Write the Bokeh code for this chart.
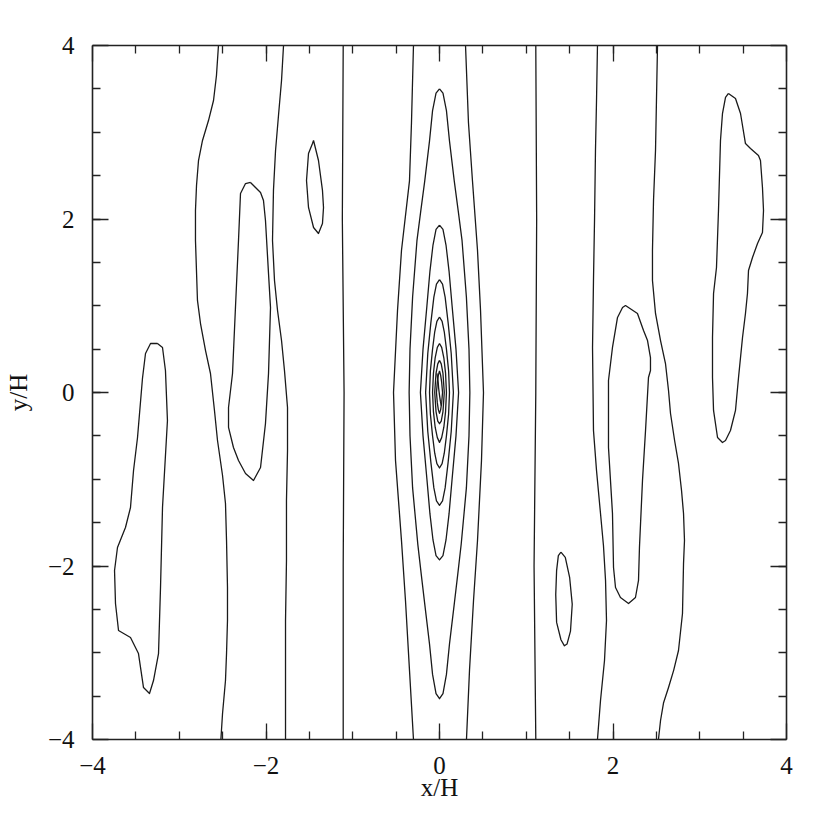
from bokeh.plotting import figure
from bokeh.models import LinearAxis, FixedTicker, Range1d, CustomJSTickFormatter
from bokeh.embed import file_html
from bokeh.resources import INLINE

# ---- tick values ----
major_ticks = [-4, -2, 0, 2, 4]
minor_ticks = [-3.5, -3, -2.5, -2, -1.5, -1, -0.5, 0, 0.5, 1, 1.5, 2, 2.5, 3, 3.5]
tick_labels = {-4: "\u22124", -2: "\u22122", 0: "0", 2: "2", 4: "4"}

# ---- open contour lines crossing the box (x, y) ----
L1_x = [-2.548, -2.571, -2.605, -2.663, -2.732, -2.778, -2.801, -2.813, -2.813, -2.790, -2.755, -2.697, -2.640,
        -2.594, -2.559, -2.501, -2.467, -2.455, -2.444, -2.444, -2.455, -2.467, -2.501, -2.520]
L1_y = [4.0, 3.654, 3.366, 3.135, 2.905, 2.674, 2.386, 2.098, 1.752, 1.061, 0.795, 0.484, 0.219,
        -0.207, -0.553, -0.957, -1.280, -1.706, -2.248, -2.628, -3.009, -3.320, -3.700, -4.0]

L2_x = [-1.798, -1.821, -1.856, -1.890, -1.914, -1.925, -1.902, -1.867, -1.821, -1.787, -1.752,
        -1.752, -1.764, -1.764, -1.775, -1.775, -1.775]
L2_y = [4.0, 3.597, 3.193, 2.790, 2.329, 1.752, 1.291, 0.945, 0.599, 0.254, -0.173,
        -0.669, -1.245, -1.937, -2.628, -3.320, -4.0]

L3_x = [-1.11, -1.12, -1.10, -1.11, -1.11]
L3_y = [4.0, 2.0, 0.0, -2.0, -4.0]

L4_x = [1.11, 1.12, 1.11, 1.09, 1.11]
L4_y = [4.0, 2.0, 0.0, -2.0, -4.0]

L5_x = [1.821, 1.810, 1.798, 1.787, 1.775, 1.764, 1.775, 1.810, 1.856, 1.890, 1.914, 1.925, 1.902, 1.856, 1.821]
L5_y = [4.0, 3.366, 2.790, 1.983, 1.291, 0.519, -0.438, -0.899, -1.395, -1.764, -2.167, -2.628, -3.089, -3.550, -4.0]

L6_x = [2.513, 2.501, 2.490, 2.467, 2.455, 2.455, 2.490, 2.548, 2.605, 2.640, 2.663, 2.710, 2.755,
        2.790, 2.813, 2.824, 2.813, 2.801, 2.755, 2.700, 2.640, 2.582, 2.548, 2.524]
L6_y = [4.0, 3.366, 2.790, 2.213, 1.637, 1.291, 0.911, 0.599, 0.334, 0.023, -0.242, -0.553, -0.818,
        -1.130, -1.395, -1.706, -1.971, -2.548, -2.974, -3.200, -3.400, -3.580, -3.781, -4.0]

C0L_x = [-0.300, -0.323, -0.346, -0.438, -0.484, -0.530, -0.507, -0.438, -0.392, -0.346, -0.300]
C0L_y = [4.0, 3.11, 2.44, 1.64, 0.945, 0.0, -0.784, -1.71, -2.40, -3.20, -4.0]
C0R_x = [0.300, 0.334, 0.380, 0.438, 0.473, 0.507, 0.484, 0.438, 0.392, 0.346, 0.311]
C0R_y = [4.0, 3.11, 2.44, 1.64, 0.945, 0.0, -0.784, -1.71, -2.40, -3.20, -4.0]

# ---- closed loops (x, y) ----
A_x = [-3.251, -3.193, -3.159, -3.136, -3.193, -3.216, -3.239, -3.297, -3.343, -3.412, -3.470, -3.562,
       -3.700, -3.735, -3.746, -3.712, -3.620, -3.562, -3.527, -3.481, -3.424, -3.389, -3.331]
A_y = [0.565, 0.519, 0.254, -0.323, -1.326, -2.248, -3.009, -3.320, -3.470, -3.401, -3.009, -2.824,
       -2.744, -2.432, -2.052, -1.787, -1.556, -1.326, -0.899, -0.519, 0.161, 0.450, 0.565]

B_x = [-2.179, -2.063, -2.029, -2.006, -1.971, -1.948, -1.971, -2.006, -2.063, -2.144,
       -2.236, -2.317, -2.375, -2.432, -2.432, -2.386, -2.352, -2.317, -2.294, -2.236]
B_y = [2.421, 2.305, 2.213, 1.983, 1.372, 0.980, 0.219, -0.357, -0.865, -1.014,
       -0.934, -0.784, -0.634, -0.403, -0.173, 0.219, 0.980, 1.752, 2.294, 2.409]

C_x = [-1.452, -1.395, -1.349, -1.337, -1.349, -1.395, -1.452, -1.510, -1.533, -1.510, -1.464]
C_y = [2.905, 2.674, 2.329, 2.133, 1.948, 1.833, 1.902, 2.133, 2.444, 2.755, 2.870]

D_x = [1.40, 1.45, 1.50, 1.53, 1.51, 1.47, 1.44, 1.40, 1.35, 1.34, 1.35, 1.37]
D_y = [-1.84, -1.90, -2.13, -2.44, -2.75, -2.90, -2.92, -2.85, -2.65, -2.33, -2.05, -1.88]

E_x = [2.144, 2.282, 2.352, 2.398, 2.432, 2.432, 2.409, 2.375, 2.340, 2.305, 2.294, 2.259,
       2.179, 2.086, 2.029, 2.006, 1.994, 1.948, 1.948, 1.994, 2.052, 2.110]
E_y = [1.003, 0.911, 0.715, 0.599, 0.403, 0.254, 0.173, -0.438, -1.014, -1.787, -2.167, -2.363,
       -2.432, -2.363, -2.248, -2.017, -1.395, -0.634, 0.138, 0.519, 0.865, 0.980]

F_x = [3.331, 3.412, 3.470, 3.527, 3.585, 3.677, 3.700, 3.723, 3.735, 3.723, 3.666, 3.608, 3.562,
       3.550, 3.527, 3.493, 3.447, 3.412, 3.354, 3.297, 3.262, 3.205, 3.159, 3.147, 3.147, 3.159,
       3.193, 3.216, 3.239, 3.262, 3.297]
F_y = [3.447, 3.389, 3.216, 2.870, 2.813, 2.732, 2.674, 2.363, 2.098, 1.844, 1.718, 1.556, 1.406,
       1.141, 0.911, 0.634, 0.173, -0.207, -0.438, -0.553, -0.576, -0.519, -0.207, 0.173, 0.634, 1.141,
       1.441, 2.098, 2.905, 3.216, 3.401]

# ---- central nested loops: y from top to bottom, half-width at each y ----
C1_y = [3.50, 3.45, 3.25, 2.90, 2.44, 2.10, 1.75, 1.10, 0.50, 0.0, -0.50, -1.10, -1.75, -2.10, -2.44, -2.90, -3.25, -3.47, -3.53]
C1_hw = [0.0, 0.04, 0.08, 0.115, 0.17, 0.215, 0.26, 0.31, 0.34, 0.35, 0.34, 0.31, 0.25, 0.21, 0.17, 0.115, 0.08, 0.04, 0.0]
C2_y = [1.93, 1.88, 1.70, 1.40, 1.00, 0.50, 0.0, -0.50, -1.00, -1.40, -1.70, -1.88, -1.93]
C2_hw = [0.0, 0.04, 0.075, 0.11, 0.145, 0.19, 0.22, 0.19, 0.145, 0.11, 0.075, 0.04, 0.0]
C3_y = [1.30, 1.25, 1.10, 0.80, 0.45, 0.0, -0.45, -0.80, -1.10, -1.25, -1.30]
C3_hw = [0.0, 0.035, 0.065, 0.10, 0.135, 0.16, 0.135, 0.10, 0.065, 0.035, 0.0]
C4_y = [0.87, 0.82, 0.70, 0.50, 0.25, 0.0, -0.25, -0.50, -0.70, -0.82, -0.87]
C4_hw = [0.0, 0.03, 0.055, 0.08, 0.105, 0.115, 0.105, 0.08, 0.055, 0.03, 0.0]
C5_y = [0.565, 0.52, 0.40, 0.22, 0.0, -0.22, -0.40, -0.52, -0.575]
C5_hw = [0.0, 0.025, 0.05, 0.07, 0.08, 0.07, 0.05, 0.025, 0.0]
C6_y = [0.37, 0.33, 0.22, 0.0, -0.22, -0.33, -0.36]
C6_hw = [0.0, 0.02, 0.04, 0.055, 0.04, 0.02, 0.0]
C7_y = [0.25, 0.20, 0.12, 0.0, -0.12, -0.20, -0.24]
C7_hw = [0.0, 0.013, 0.025, 0.035, 0.025, 0.013, 0.0]
core_x = [-0.03, -0.015, -0.01, 0.0, 0.01, 0.02]
core_y = [0.22, 0.12, 0.05, -0.03, -0.10, -0.15]

# ---- build line lists ----
xs, ys = [], []
for lx, ly in [(L1_x, L1_y), (L2_x, L2_y), (L3_x, L3_y), (L4_x, L4_y), (L5_x, L5_y),
               (L6_x, L6_y), (C0L_x, C0L_y), (C0R_x, C0R_y), (core_x, core_y)]:
    xs.append(list(lx)); ys.append(list(ly))
for lx, ly in [(A_x, A_y), (B_x, B_y), (C_x, C_y), (D_x, D_y), (E_x, E_y), (F_x, F_y)]:
    xs.append(list(lx) + [lx[0]]); ys.append(list(ly) + [ly[0]])
for cy, hw in [(C1_y, C1_hw), (C2_y, C2_hw), (C3_y, C3_hw), (C4_y, C4_hw),
               (C5_y, C5_hw), (C6_y, C6_hw), (C7_y, C7_hw)]:
    rx = list(hw) + [-h for h in reversed(hw)]
    ry = list(cy) + list(reversed(cy))
    xs.append(rx); ys.append(ry)

FONT = "Liberation Serif"

p = figure(output_backend="svg", toolbar_location=None,
           frame_width=694, frame_height=694,
           min_border_left=92, min_border_top=45, min_border_right=26, min_border_bottom=70,
           x_range=Range1d(-4, 4), y_range=Range1d(-4, 4))
p.xgrid.visible = False
p.ygrid.visible = False
p.outline_line_color = None
p.background_fill_color = "white"
p.border_fill_color = "white"

p.multi_line(xs=xs, ys=ys, line_color="#1a1a1a", line_width=1.3, line_join="round")

bottom = p.below[0]
left = p.left[0]
top = LinearAxis()
right = LinearAxis()
p.add_layout(top, "above")
p.add_layout(right, "right")

for ax in [bottom, left, top, right]:
    ax.ticker = FixedTicker(ticks=major_ticks, minor_ticks=minor_ticks)
    ax.major_tick_in = 16
    ax.major_tick_out = 0
    ax.minor_tick_in = 8
    ax.minor_tick_out = 0
    ax.axis_line_color = "#222222"
    ax.axis_line_width = 1.6
    ax.major_tick_line_color = "#222222"
    ax.minor_tick_line_color = "#222222"
    ax.major_tick_line_width = 1.3
    ax.minor_tick_line_width = 1.3
    ax.major_label_text_font = FONT
    ax.major_label_text_font_size = "25px"
    ax.major_label_text_color = "#111111"
    ax.axis_label_text_font = FONT
    ax.axis_label_text_font_size = "25px"
    ax.axis_label_text_font_style = "normal"
    ax.axis_label_text_color = "#111111"

bottom.major_label_overrides = tick_labels
left.major_label_overrides = tick_labels
bottom.major_label_standoff = 17
left.major_label_standoff = 18
bottom.axis_label = "x/H"
left.axis_label = "y/H"
bottom.axis_label_standoff = -3
left.axis_label_standoff = 13

for ax in [top, right]:
    ax.formatter = CustomJSTickFormatter(code="return ''")
    ax.major_label_standoff = 0

open("out.html", "w").write(file_html(p, INLINE))
